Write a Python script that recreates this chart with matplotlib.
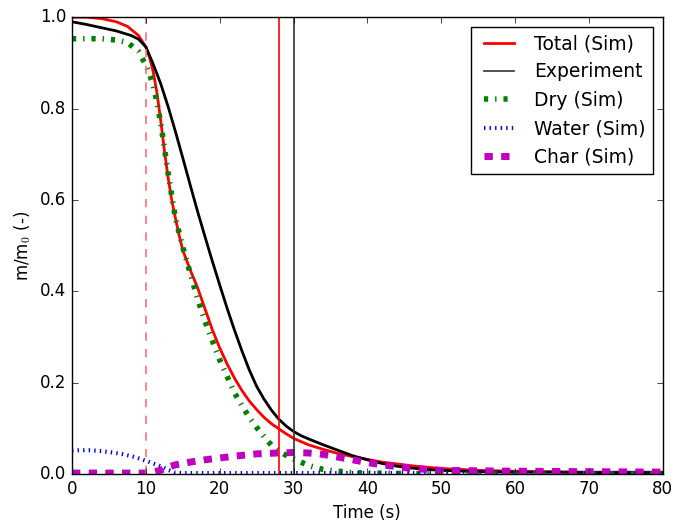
import matplotlib
matplotlib.use("Agg")
import matplotlib.pyplot as plt

plt.style.use('classic')
plt.rcParams['figure.facecolor'] = 'white'
plt.rcParams['savefig.facecolor'] = 'white'
plt.rcParams['font.family'] = ['DejaVu Sans']

# total mass (simulation)
t_total = [0, 2, 4, 6, 7.5, 9, 10, 10.5, 11, 11.5, 12, 12.5, 13, 13.5, 14, 14.5, 15, 16, 17, 18,
           19, 20, 21, 22, 23, 24, 25, 26, 27, 28, 29, 30, 32, 34, 36, 38, 40, 42, 44, 46,
           48, 50, 55, 60, 65, 70, 75, 80]
m_total = [1.0, 1.0, 0.997, 0.99, 0.98, 0.96, 0.935, 0.912, 0.88, 0.835, 0.775, 0.71, 0.65, 0.6, 0.56, 0.523, 0.49, 0.447, 0.408, 0.362,
           0.316, 0.276, 0.241, 0.21, 0.183, 0.16, 0.141, 0.124, 0.11, 0.099, 0.088, 0.078, 0.064, 0.054, 0.045, 0.038, 0.032, 0.026, 0.022, 0.018,
           0.015, 0.012, 0.008, 0.006, 0.005, 0.004, 0.004, 0.004]

# experiment
t_exp = [0, 2, 4, 6, 8, 9, 10, 11, 12, 13, 14, 15, 16, 17, 18, 19, 20, 21, 22, 23,
         24, 25, 26, 27, 28, 29, 30, 31, 32, 34, 36, 38, 40, 42, 44, 46, 48, 50, 55, 60,
         65, 70, 75, 80]
m_exp = [0.99, 0.984, 0.977, 0.97, 0.96, 0.952, 0.935, 0.897, 0.855, 0.805, 0.75, 0.692, 0.633, 0.575, 0.52, 0.466, 0.414, 0.363, 0.315, 0.27,
         0.228, 0.192, 0.164, 0.14, 0.12, 0.105, 0.093, 0.084, 0.077, 0.064, 0.052, 0.04, 0.031, 0.023, 0.017, 0.013, 0.01, 0.008, 0.005, 0.004,
         0.004, 0.003, 0.003, 0.003]

# dry solid
t_dry = [0, 2, 4, 6, 7.5, 9, 10, 10.5, 11, 11.5, 12, 12.5, 13, 13.5, 14, 15, 16, 17, 18, 19,
         20, 21, 22, 23, 24, 25, 26, 27, 28, 29, 30, 31, 32, 33, 34, 36, 38, 40, 45, 50,
         60, 70, 80]
m_dry = [0.953, 0.953, 0.953, 0.95, 0.945, 0.925, 0.895, 0.876, 0.85, 0.815, 0.77, 0.715, 0.66, 0.61, 0.56, 0.497, 0.44, 0.384, 0.335, 0.292,
         0.25, 0.214, 0.178, 0.15, 0.124, 0.102, 0.082, 0.063, 0.05, 0.041, 0.033, 0.026, 0.019, 0.014, 0.01, 0.006, 0.003, 0.002, 0.001, 0.0,
         0.0, 0.0, 0.0]

# water
t_water = [0, 1, 2.5, 4, 5.5, 7, 8.5, 10, 11, 12, 13, 14, 15, 20, 30, 40, 50, 60, 70, 80]
m_water = [0.051, 0.052, 0.052, 0.05, 0.047, 0.043, 0.037, 0.029, 0.023, 0.017, 0.009, 0.003, 0.002, 0.002, 0.002, 0.002, 0.002, 0.002, 0.002, 0.002]

# char
t_char = [0, 5, 10, 11, 12, 13, 14, 16, 18, 20, 22, 25, 28, 30, 32, 34, 36, 38, 40, 42,
          44, 46, 48, 50, 55, 60, 70, 80]
m_char = [0.002, 0.002, 0.002, 0.004, 0.008, 0.015, 0.02, 0.026, 0.031, 0.035, 0.039, 0.044, 0.046, 0.047, 0.046, 0.043, 0.037, 0.031, 0.025, 0.02,
          0.016, 0.012, 0.01, 0.008, 0.007, 0.006, 0.005, 0.004]

t_ignition = 10
t_burnout_sim = 28
t_burnout_exp = 30

fig = plt.figure(figsize=(6.86, 5.22), dpi=100)
ax = fig.add_axes([0.105, 0.092, 0.861, 0.875])

l_total, = ax.plot(t_total, m_total, color='r', linewidth=2, label='Total (Sim)')
ax.plot(t_exp, m_exp, color='k', linewidth=2)
l_dry, = ax.plot(t_dry, m_dry, color='g', linewidth=4, linestyle='-.', label='Dry (Sim)')
l_water, = ax.plot(t_water, m_water, color='b', linewidth=3, linestyle=':', label='Water (Sim)')
l_char, = ax.plot(t_char, m_char, color='m', linewidth=5, linestyle='--', label='Char (Sim)')

ax.axvline(t_ignition, color='#ff6f6f', linewidth=1.2, linestyle='--')
ax.axvline(t_burnout_sim, color='r', linewidth=1.2)
l_exp = ax.axvline(t_burnout_exp, color='#333333', linewidth=1.2, label='Experiment')

ax.set_xlim(0, 80)
ax.set_ylim(0, 1.0)
ax.set_xlabel('Time (s)')
ax.set_ylabel('m/m$_0$ (-)')

ax.legend([l_total, l_exp, l_dry, l_water, l_char],
          ['Total (Sim)', 'Experiment', 'Dry (Sim)', 'Water (Sim)', 'Char (Sim)'],
          loc='upper right', fontsize=13.5, handlelength=2.2)

fig.savefig('out.png', dpi=100)
